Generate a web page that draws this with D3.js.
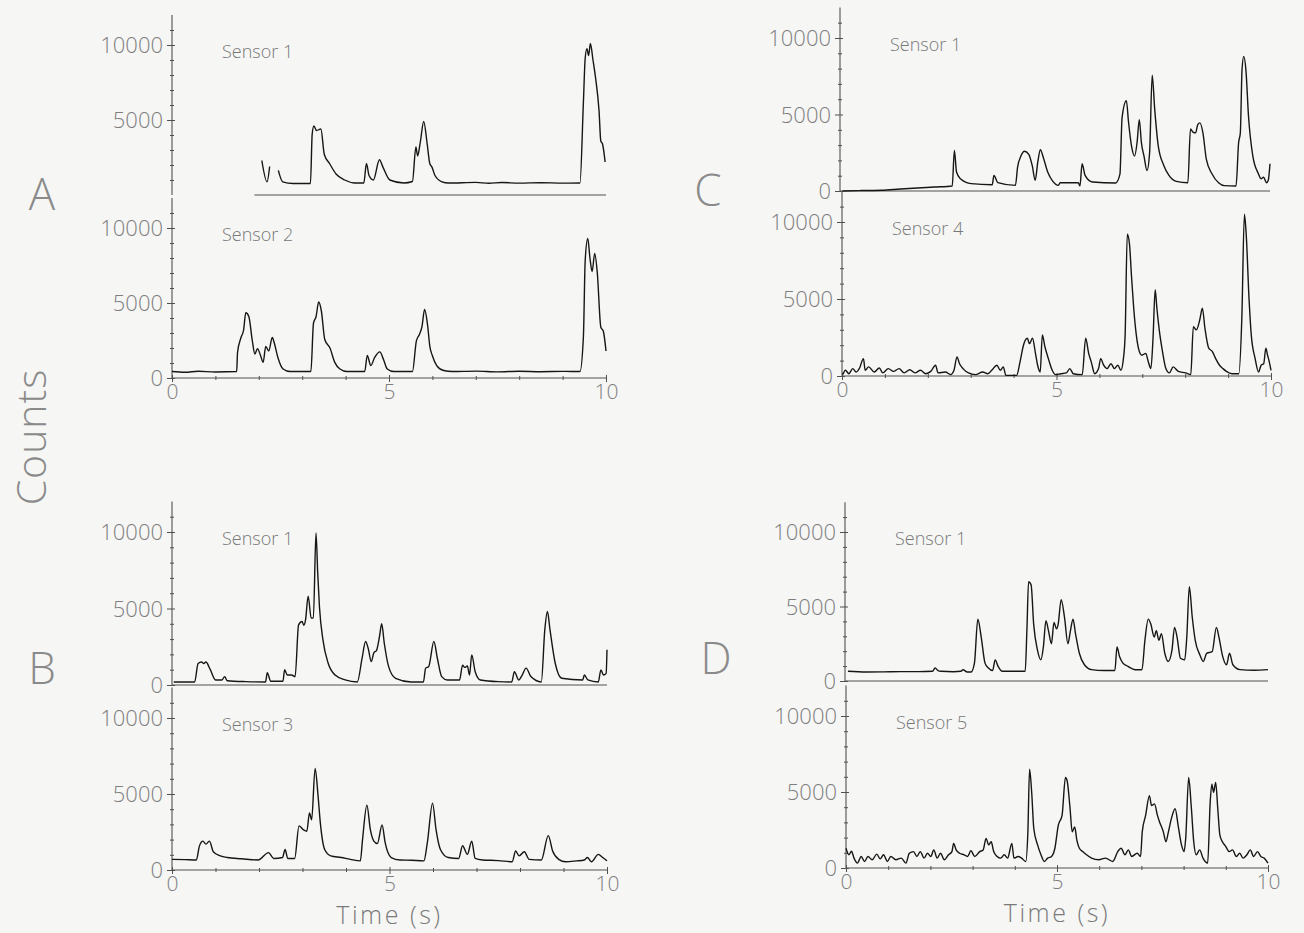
<!DOCTYPE html>
<html><head><meta charset="utf-8">
<script src="https://cdn.jsdelivr.net/npm/d3@7/dist/d3.min.js"></script>
<style>
body{margin:0;background:#f6f6f5;}
svg{display:block;}
text{font-family:"Open Sans","DejaVu Sans",sans-serif;font-weight:300;}
</style></head>
<body><svg id="chart" width="1304" height="933"></svg>
<script>
// ---- data: [time (s), counts] ----
const sensorA1 = [[2.07,2300],[2.19,880],[2.25,1900],[2.35,null],[2.45,1640],[2.55,880],[2.79,770],[3.19,770],[3.23,4060],[3.27,4600],[3.33,4300],[3.43,4400],[3.51,2700],[3.63,2100],[3.78,1400],[3.98,1000],[4.22,800],[4.42,800],[4.48,2100],[4.54,1300],[4.64,1000],[4.78,2350],[4.86,1860],[5.02,1000],[5.34,800],[5.54,900],[5.62,3200],[5.66,2600],[5.72,3500],[5.8,4900],[5.88,3400],[5.94,2100],[5.99,1860],[6.06,1300],[6.22,880],[6.37,800],[7.0,840],[7.3,780],[7.6,830],[8.0,790],[8.5,820],[9.0,790],[9.4,800],[9.48,6250],[9.52,9100],[9.56,9760],[9.6,9300],[9.64,10100],[9.7,9000],[9.76,7800],[9.84,5600],[9.88,3600],[9.92,3400],[9.98,2200]];
const sensorA2 = [[0,430],[0.3,380],[0.6,450],[1.0,400],[1.49,430],[1.51,1700],[1.59,2700],[1.65,3200],[1.7,4350],[1.77,4100],[1.85,2500],[1.91,1600],[1.97,1960],[2.04,1500],[2.1,1040],[2.16,2100],[2.23,1800],[2.31,2700],[2.36,2300],[2.44,1370],[2.56,600],[2.72,430],[3.2,430],[3.26,3650],[3.32,4100],[3.38,5070],[3.44,4500],[3.52,2570],[3.64,2000],[3.75,1040],[3.87,600],[4.03,430],[4.44,430],[4.5,1500],[4.58,830],[4.67,1370],[4.79,1740],[4.87,1260],[4.96,600],[5.11,430],[5.54,430],[5.63,2460],[5.7,2900],[5.76,3430],[5.82,4570],[5.89,3500],[5.94,2130],[6.0,1480],[6.1,830],[6.26,500],[6.46,430],[7.0,460],[7.5,410],[8.0,450],[8.5,420],[9.0,440],[9.4,430],[9.48,2800],[9.52,7800],[9.58,9300],[9.63,8000],[9.68,7100],[9.74,8300],[9.8,7000],[9.88,3400],[9.94,3100],[10,1800]];
const sensorB1 = [[0.04,200],[0.52,200],[0.6,1400],[0.68,1500],[0.73,1400],[0.78,1500],[0.88,1000],[1.0,330],[1.15,330],[1.21,550],[1.27,280],[1.7,220],[2.15,200],[2.19,800],[2.27,250],[2.55,250],[2.59,1000],[2.65,650],[2.75,650],[2.83,550],[2.91,3930],[2.99,4150],[3.03,3900],[3.07,4250],[3.13,5800],[3.2,4370],[3.25,4370],[3.31,9930],[3.35,7300],[3.39,5100],[3.47,2950],[3.59,1420],[3.75,650],[3.98,330],[4.26,200],[4.37,1750],[4.45,2840],[4.51,2400],[4.58,1530],[4.64,2100],[4.7,2250],[4.77,3170],[4.82,4000],[4.88,2730],[4.98,1200],[5.14,440],[5.5,200],[5.78,200],[5.83,1100],[5.9,1200],[6.02,2840],[6.1,1750],[6.2,550],[6.33,330],[6.61,330],[6.68,1300],[6.73,1150],[6.79,1240],[6.84,650],[6.89,1970],[6.97,870],[7.09,330],[7.5,220],[7.81,200],[7.87,870],[7.97,330],[8.05,650],[8.14,1100],[8.25,550],[8.49,200],[8.57,3600],[8.63,4800],[8.69,3600],[8.81,1420],[8.96,440],[9.44,330],[9.48,650],[9.56,330],[9.8,200],[9.86,980],[9.92,650],[9.98,760],[10.0,2300]];
const sensorB2 = [[0,700],[0.3,680],[0.56,660],[0.63,1570],[0.71,1900],[0.78,1700],[0.86,1900],[0.95,1200],[1.11,930],[1.27,820],[1.6,740],[1.98,660],[2.22,1140],[2.34,760],[2.54,820],[2.6,1350],[2.66,760],[2.82,760],[2.92,2900],[3.02,2650],[3.1,2550],[3.16,3760],[3.21,3300],[3.29,6680],[3.36,4800],[3.41,3100],[3.51,1350],[3.65,930],[3.89,820],[4.1,700],[4.33,600],[4.38,2000],[4.48,4260],[4.56,2650],[4.64,1900],[4.72,1740],[4.83,2960],[4.9,1800],[5.04,820],[5.24,660],[5.5,640],[5.79,600],[5.87,1800],[5.99,4400],[6.07,2650],[6.17,1350],[6.35,820],[6.59,760],[6.68,1600],[6.79,1030],[6.89,1900],[6.97,760],[7.14,660],[7.5,620],[7.82,540],[7.9,1250],[7.98,930],[8.1,1200],[8.21,700],[8.49,660],[8.65,2260],[8.75,1250],[8.89,700],[9.05,540],[9.3,600],[9.48,660],[9.55,820],[9.64,540],[9.8,1030],[9.9,820],[10,600]];
const sensorC1 = [[0.06,0],[0.5,30],[0.97,50],[1.4,130],[1.8,200],[2.2,260],[2.61,330],[2.66,2650],[2.71,1240],[2.8,800],[3.05,480],[3.54,410],[3.58,1020],[3.67,550],[4.08,370],[4.13,1560],[4.21,2300],[4.29,2600],[4.39,2400],[4.47,1670],[4.54,700],[4.6,1900],[4.66,2700],[4.73,2170],[4.83,1240],[4.95,630],[5.08,370],[5.12,540],[5.54,540],[5.58,330],[5.63,1780],[5.7,1020],[5.87,590],[6.41,520],[6.51,1100],[6.56,4800],[6.66,5900],[6.71,4500],[6.78,2930],[6.85,2280],[6.91,3200],[6.96,4660],[7.01,3150],[7.07,2280],[7.14,1340],[7.2,2500],[7.26,7570],[7.32,5300],[7.4,2970],[7.53,1670],[7.65,1020],[7.82,630],[8.09,540],[8.15,4060],[8.21,3850],[8.27,3800],[8.32,4340],[8.37,4450],[8.44,3800],[8.52,2060],[8.65,1130],[8.81,520],[8.94,350],[9.21,330],[9.27,3150],[9.31,3800],[9.35,7960],[9.39,8800],[9.44,7900],[9.5,4900],[9.6,2300],[9.73,1130],[9.79,800],[9.85,900],[9.92,540],[9.96,700],[10,1780]];
const sensorC2 = [[0.02,90],[0.08,370],[0.16,150],[0.25,480],[0.33,260],[0.41,520],[0.5,1130],[0.54,370],[0.62,590],[0.75,260],[0.87,520],[0.95,200],[1.08,480],[1.2,300],[1.33,480],[1.45,200],[1.58,410],[1.7,200],[1.83,370],[1.95,150],[2.07,300],[2.18,700],[2.24,200],[2.41,260],[2.53,90],[2.61,370],[2.68,1240],[2.74,800],[2.82,480],[2.95,200],[3.11,90],[3.28,260],[3.4,150],[3.49,370],[3.61,700],[3.69,370],[3.76,590],[3.82,40],[4.07,40],[4.15,920],[4.23,2000],[4.32,2450],[4.37,2100],[4.44,2450],[4.51,1470],[4.56,700],[4.62,260],[4.67,2670],[4.73,1900],[4.81,1130],[4.9,370],[4.98,90],[5.1,150],[5.23,200],[5.31,480],[5.39,150],[5.6,90],[5.68,2450],[5.75,1470],[5.81,920],[5.89,150],[5.98,480],[6.03,1130],[6.1,700],[6.18,480],[6.27,800],[6.35,480],[6.43,700],[6.5,370],[6.56,1130],[6.6,2670],[6.65,9200],[6.7,8600],[6.75,6400],[6.8,4400],[6.86,2670],[6.93,1600],[6.99,1350],[7.08,1470],[7.14,920],[7.2,480],[7.25,2450],[7.3,5600],[7.34,4400],[7.41,2670],[7.47,1600],[7.55,480],[7.63,200],[7.72,590],[7.84,300],[8.01,200],[8.13,90],[8.19,3200],[8.26,3000],[8.34,3650],[8.4,4400],[8.46,3100],[8.55,1800],[8.63,1600],[8.71,1130],[8.8,700],[8.88,480],[8.96,300],[9.09,150],[9.25,150],[9.32,3750],[9.38,10500],[9.42,9300],[9.49,4900],[9.54,2670],[9.63,1130],[9.71,260],[9.77,700],[9.83,800],[9.88,1800],[9.92,1350],[9.96,920],[10,370]];
const sensorD1 = [[0.07,650],[0.5,600],[0.91,610],[1.32,630],[1.74,630],[2.07,650],[2.13,870],[2.2,700],[2.27,650],[2.56,620],[2.74,650],[2.79,760],[2.89,600],[2.98,600],[3.06,1200],[3.14,4150],[3.22,2950],[3.31,1200],[3.39,870],[3.49,700],[3.55,1420],[3.62,980],[3.72,650],[4.26,650],[4.3,3380],[4.34,6660],[4.4,6440],[4.46,3820],[4.55,2070],[4.63,1420],[4.69,2290],[4.75,4040],[4.81,3380],[4.88,2500],[4.94,3930],[5.0,3500],[5.04,3820],[5.11,5460],[5.19,4260],[5.27,2500],[5.33,3380],[5.39,4150],[5.45,3170],[5.54,1860],[5.66,1090],[5.83,760],[6.12,700],[6.38,700],[6.43,2290],[6.49,1640],[6.57,1200],[6.69,980],[6.86,760],[7.02,760],[7.09,2730],[7.17,4150],[7.23,3820],[7.31,2950],[7.36,3380],[7.42,2730],[7.48,3170],[7.56,1860],[7.64,1310],[7.73,2070],[7.79,3600],[7.85,2950],[7.93,1530],[8.03,1420],[8.08,2950],[8.14,6330],[8.21,4260],[8.28,2730],[8.39,1750],[8.47,1310],[8.55,1860],[8.68,1970],[8.78,3600],[8.84,2950],[8.93,1640],[9.02,1090],[9.09,1860],[9.17,1090],[9.34,760],[9.67,720],[10,760]];
const sensorD2 = [[0,1300],[0.07,870],[0.13,1100],[0.19,650],[0.27,320],[0.36,760],[0.44,430],[0.52,760],[0.62,540],[0.73,910],[0.81,600],[0.89,870],[0.98,430],[1.06,760],[1.18,540],[1.31,650],[1.42,320],[1.5,970],[1.6,1080],[1.68,760],[1.76,1080],[1.85,650],[1.93,970],[2.01,760],[2.08,1190],[2.16,650],[2.24,970],[2.33,540],[2.43,870],[2.51,1080],[2.55,1620],[2.61,1190],[2.69,970],[2.8,870],[2.88,760],[2.96,1130],[3.05,760],[3.17,1080],[3.25,1190],[3.32,1950],[3.38,1520],[3.44,1730],[3.5,1080],[3.58,760],[3.67,650],[3.75,870],[3.83,650],[3.93,1620],[3.98,650],[4.08,760],[4.16,650],[4.26,430],[4.31,2380],[4.35,6500],[4.4,4980],[4.45,2600],[4.54,1520],[4.62,870],[4.7,430],[4.78,650],[4.87,760],[4.95,1300],[5.03,2810],[5.12,3460],[5.2,5950],[5.24,5740],[5.31,3900],[5.36,2380],[5.42,2700],[5.47,1840],[5.53,1300],[5.61,1080],[5.7,870],[5.82,650],[5.99,540],[6.15,650],[6.32,430],[6.44,1080],[6.52,1300],[6.61,870],[6.69,1190],[6.77,760],[6.9,970],[6.98,760],[7.02,2380],[7.1,3460],[7.19,4760],[7.24,4110],[7.31,4220],[7.38,3460],[7.43,3030],[7.52,2380],[7.58,1730],[7.64,2380],[7.71,3250],[7.8,3900],[7.87,2810],[7.95,1520],[8.01,1080],[8.05,1950],[8.12,5950],[8.18,4110],[8.24,1730],[8.3,870],[8.38,1190],[8.46,650],[8.57,320],[8.63,4330],[8.67,5520],[8.71,4980],[8.76,5630],[8.81,3900],[8.86,2160],[8.92,1730],[9.0,1410],[9.08,1080],[9.16,1190],[9.25,760],[9.33,970],[9.41,650],[9.5,870],[9.58,1190],[9.66,760],[9.75,1080],[9.83,760],[9.91,650],[10,320]];

const sensorNames = ["Sensor 1","Sensor 2","Sensor 1","Sensor 3","Sensor 1","Sensor 4","Sensor 1","Sensor 5"];
const groupLetters = ["A","B","C","D"];
const yMajorTicks = [0,5000,10000];
const yMinorTicks = [1000,2000,3000,4000,6000,7000,8000,9000,11000];
const xMajorTicks = [0,5,10];
const xMinorTicks = [1,2,3,4,6,7,8,9];
const yLabel = "Counts";
const xLabel = "Time (s)";

// ---- layout ----
const panels = [
  {data:sensorA1, name:0, x0:172, x1:606, y0:195, y10:45, xTicks:false, zero:false},
  {data:sensorA2, name:1, x0:172, x1:606, y0:378, y10:228, xTicks:true, zero:true},
  {data:sensorB1, name:2, x0:172, x1:607, y0:685, y10:532, xTicks:false, zero:true},
  {data:sensorB2, name:3, x0:172, x1:607, y0:870, y10:718, xTicks:true, zero:true, title:true},
  {data:sensorC1, name:4, x0:840, x1:1270, y0:191, y10:38, xTicks:false, zero:true},
  {data:sensorC2, name:5, x0:842, x1:1271, y0:376, y10:222, xTicks:true, zero:true},
  {data:sensorD1, name:6, x0:845, x1:1268, y0:681, y10:532, xTicks:false, zero:true},
  {data:sensorD2, name:7, x0:846, x1:1268, y0:868, y10:716, xTicks:true, zero:true, title:true}
];
const svg = d3.select("#chart");
const ink = "#161616", axisInk = "#505050", textInk = "#7e7e7e";

panels.forEach(p => {
  const x = d3.scaleLinear().domain([0,10]).range([p.x0,p.x1]);
  const y = d3.scaleLinear().domain([0,10000]).range([p.y0,p.y10]);
  const g = svg.append("g");
  // y axis major
  const ya = g.append("g").attr("transform",`translate(${p.x0},0)`)
    .call(d3.axisLeft(y).tickValues(p.zero?yMajorTicks:yMajorTicks.slice(1)).tickSize(6).tickPadding(3).tickFormat(d3.format("d")));
  ya.select(".domain").remove();
  ya.selectAll(".tick line").attr("stroke",axisInk).attr("x2",-5).attr("x1",3);
  ya.selectAll(".tick text").style("font-size","22px").style("fill",textInk).attr("dy","0.36em");
  // y minor
  const ym = g.append("g").attr("transform",`translate(${p.x0},0)`)
    .call(d3.axisLeft(y).tickValues(yMinorTicks).tickSize(2).tickFormat(""));
  ym.select(".domain").remove();
  ym.selectAll(".tick line").attr("stroke",axisInk).attr("x1",2);
  g.append("line").attr("x1",p.x0).attr("x2",p.x0).attr("y1",y(0)).attr("y2",y(12000))
    .attr("stroke",axisInk).attr("stroke-width",1.1);
  // x axis
  const xa = g.append("g").attr("transform",`translate(0,${p.y0})`)
    .call(d3.axisBottom(x).tickValues(p.xTicks?xMajorTicks:[]).tickSize(p.xTicks?4:0).tickPadding(2));
  xa.select(".domain").attr("stroke",axisInk).attr("d",`M${p.name===0?x(1.9):p.x0},0H${p.x1}`);
  xa.selectAll(".tick line").attr("stroke",axisInk).attr("y1",-3);
  xa.selectAll(".tick text").style("font-size","21px").style("fill",textInk);
  if (p.xTicks) {
    const xm = g.append("g").attr("transform",`translate(0,${p.y0})`)
      .call(d3.axisBottom(x).tickValues(xMinorTicks).tickSize(2).tickFormat(""));
    xm.select(".domain").remove();
    xm.selectAll(".tick line").attr("stroke",axisInk).attr("y1",-2);
  }
  // trace
  g.append("path").datum(p.data)
    .attr("d", d3.line().defined(d=>d[1]!=null).x(d=>x(d[0])).y(d=>y(d[1])).curve(d3.curveMonotoneX))
    .attr("fill","none").attr("stroke",ink).attr("stroke-width",1.4).attr("stroke-linejoin","round");
  // sensor label
  g.append("text").attr("x",p.x0+50).attr("y",y(10000)+7).attr("dy","0.35em")
    .style("font-size","18px").style("fill","#787878").text(sensorNames[p.name]);
  if (p.title) {
    g.append("text").attr("x",x(5)).attr("y",p.y0+54).attr("text-anchor","middle")
      .style("font-size","25px").style("letter-spacing","2.5px").style("fill","#7a7a7a").text(xLabel);
  }
});

// group letters
const letterPos = [[42,194],[42,668],[708,190],[716,658]];
groupLetters.forEach((L,i)=>{
  svg.append("text").attr("x",letterPos[i][0]).attr("y",letterPos[i][1]).attr("dy","0.36em")
    .attr("text-anchor","middle").style("font-size","44px").style("font-weight","200").style("fill","#8a8a8a").text(L);
});
svg.append("text").attr("transform","translate(46,437) rotate(-90)").attr("text-anchor","middle")
  .style("font-size","41px").style("letter-spacing","1px").style("font-weight","200").style("fill","#8a8a8a").text(yLabel);
</script></body></html>
